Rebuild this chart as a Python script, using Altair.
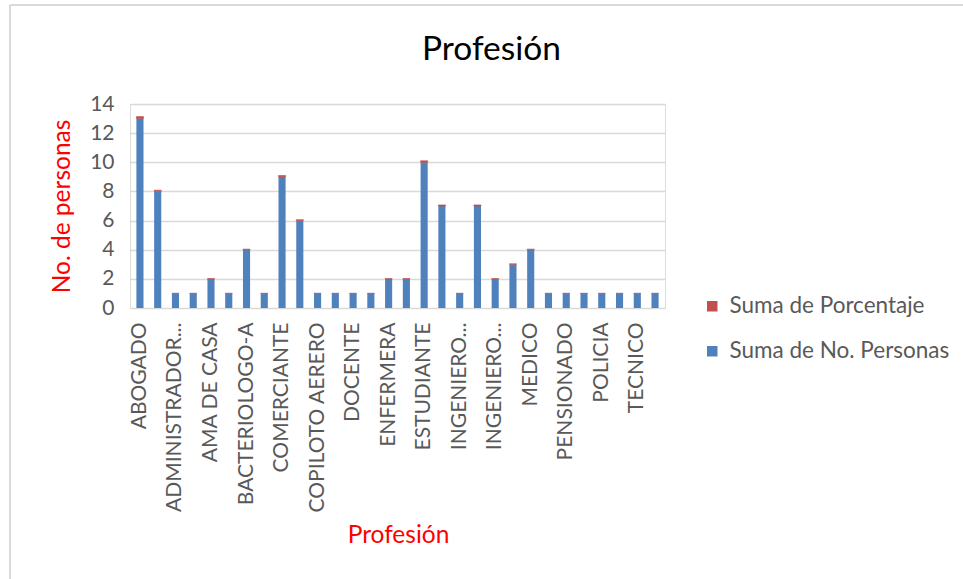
import json
import altair as alt
import pandas as pd

# Professions in sheet order (alphabetical), one bar each
profesiones = [
    "ABOGADO", "ADMINISTRADOR", "ADMINISTRADOR DE EMPRESAS", "AGRICULTOR",
    "AMA DE CASA", "ARQUITECTO", "BACTERIOLOGO-A", "CHEF",
    "COMERCIANTE", "CONTADOR", "COPILOTO AERERO", "DISEÑADOR",
    "DOCENTE", "ECONOMISTA", "ENFERMERA", "ESTILISTA",
    "ESTUDIANTE", "INDEPENDIENTE", "INGENIERO AMBIENTAL", "INGENIERO CIVIL",
    "INGENIERO INDUSTRIAL", "LICENCIADO", "MEDICO", "MILITAR",
    "PENSIONADO", "PINTOR", "POLICIA", "PSICOLOGO",
    "TECNICO", "TECNOLOGO",
]

# Axis text as shown under each bar (every other category, long names cut)
etiquetas = [
    "ABOGADO", "", "ADMINISTRADOR...", "",
    "AMA DE CASA", "", "BACTERIOLOGO-A", "",
    "COMERCIANTE", "", "COPILOTO AERERO", "",
    "DOCENTE", "", "ENFERMERA", "",
    "ESTUDIANTE", "", "INGENIERO...", "",
    "INGENIERO...", "", "MEDICO", "",
    "PENSIONADO", "", "POLICIA", "",
    "TECNICO", "",
]

# Suma de No. Personas
personas = [13, 8, 1, 1, 2, 1, 4, 1, 9, 6, 1, 1, 1, 1, 2, 2,
            10, 7, 1, 7, 2, 3, 4, 1, 1, 1, 1, 1, 1, 1]

# Suma de Porcentaje (share of the 95 people)
porcentaje = [0.1368, 0.0842, 0.0105, 0.0105, 0.0211, 0.0105, 0.0421, 0.0105,
              0.0947, 0.0632, 0.0105, 0.0105, 0.0105, 0.0105, 0.0211, 0.0211,
              0.1053, 0.0737, 0.0105, 0.0737, 0.0211, 0.0316, 0.0421, 0.0105,
              0.0105, 0.0105, 0.0105, 0.0105, 0.0105, 0.0105]

serie_pct = "Suma de Porcentaje"
serie_per = "Suma de No. Personas"

rows = []
for cat, n, p in zip(profesiones, personas, porcentaje):
    rows.append({"Profesion": cat, "Serie": serie_per, "Valor": n, "orden": 0})
    rows.append({"Profesion": cat, "Serie": serie_pct, "Valor": p, "orden": 1})
df = pd.DataFrame(rows)

FONT = "Lato"
GRIS = "#595959"
ROJO_TXT = "#FF0000"

label_expr = "{}[indexof({}, datum.value)]".format(
    json.dumps(etiquetas, ensure_ascii=False), json.dumps(profesiones, ensure_ascii=False)
)

barras = alt.Chart(df).mark_bar(strokeWidth=0.6).encode(
    x=alt.X(
        "Profesion:N",
        sort=profesiones,
        scale=alt.Scale(paddingInner=0.6, paddingOuter=0.36),
        axis=alt.Axis(
            title="Profesión",
            labelExpr=label_expr,
            labelAngle=-90,
            labelAlign="right",
            labelBaseline="middle",
            labelPadding=14,
            labelLimit=400,
            labelOverlap=False,
            labelFont=FONT,
            labelFontSize=21,
            labelColor=GRIS,
            ticks=False,
            domain=False,
            titleFont=FONT,
            titleFontSize=24.5,
            titleFontWeight="normal",
            titleColor=ROJO_TXT,
            titleX=268,
            titleY=227,
            titleAlign="center",
            titleBaseline="middle",
        ),
    ),
    y=alt.Y(
        "Valor:Q",
        stack="zero",
        scale=alt.Scale(domain=[0, 14], nice=False),
        axis=alt.Axis(
            title="No. de personas",
            values=[0, 2, 4, 6, 8, 10, 12, 14],
            grid=True,
            gridColor="#D9D9D9",
            gridWidth=1.5,
            domain=False,
            ticks=False,
            labelPadding=16,
            labelFont=FONT,
            labelFontSize=21,
            labelColor=GRIS,
            titleFont=FONT,
            titleFontSize=24.5,
            titleFontWeight="normal",
            titleColor=ROJO_TXT,
            titleAngle=-90,
            titleX=-68,
            titleY=102,
            titleAlign="center",
            titleBaseline="middle",
        ),
    ),
    color=alt.Color(
        "Serie:N",
        scale=alt.Scale(domain=[serie_pct, serie_per], range=["#C0504D", "#4F81BD"]),
        legend=alt.Legend(
            title=None,
            orient="none",
            legendX=571,
            legendY=191,
            symbolType="square",
            symbolSize=110,
            symbolStrokeWidth=0,
            labelFont=FONT,
            labelFontSize=22.5,
            labelColor=GRIS,
            labelOffset=6,
            labelLimit=400,
            rowPadding=22,
        ),
    ),
    stroke=alt.Color("Serie:N", legend=None,
                     scale=alt.Scale(domain=[serie_pct, serie_per], range=["#C0504D", "#4F81BD00"])),
    order=alt.Order("orden:Q", sort="ascending"),
)

# light frame of the chart area
marco = pd.DataFrame({"k": [0]})
borde_izq = alt.Chart(marco).mark_rule(color="#D9D9D9", strokeWidth=2).encode(
    x=alt.value(-120), y=alt.value(-99), y2=alt.value(480)
)
borde_sup = alt.Chart(marco).mark_rule(color="#D9D9D9", strokeWidth=2).encode(
    x=alt.value(-120), x2=alt.value(840), y=alt.value(-99)
)

chart = alt.layer(borde_izq, borde_sup, barras).properties(
    width=535,
    height=204,
    title=alt.TitleParams(
        "Profesión",
        font=FONT,
        fontSize=33.5,
        fontWeight="normal",
        color="#000000",
        anchor="middle",
        dx=94,
        dy=79,
        baseline="middle",
        offset=0,
    ),
    autosize=alt.AutoSizeParams(type="none"),
    padding={"left": 130, "top": 104, "right": 298, "bottom": 271},
).configure_view(stroke=None).configure(background="white")

chart.save("out.html", embed_options={"renderer": "svg", "actions": False})
